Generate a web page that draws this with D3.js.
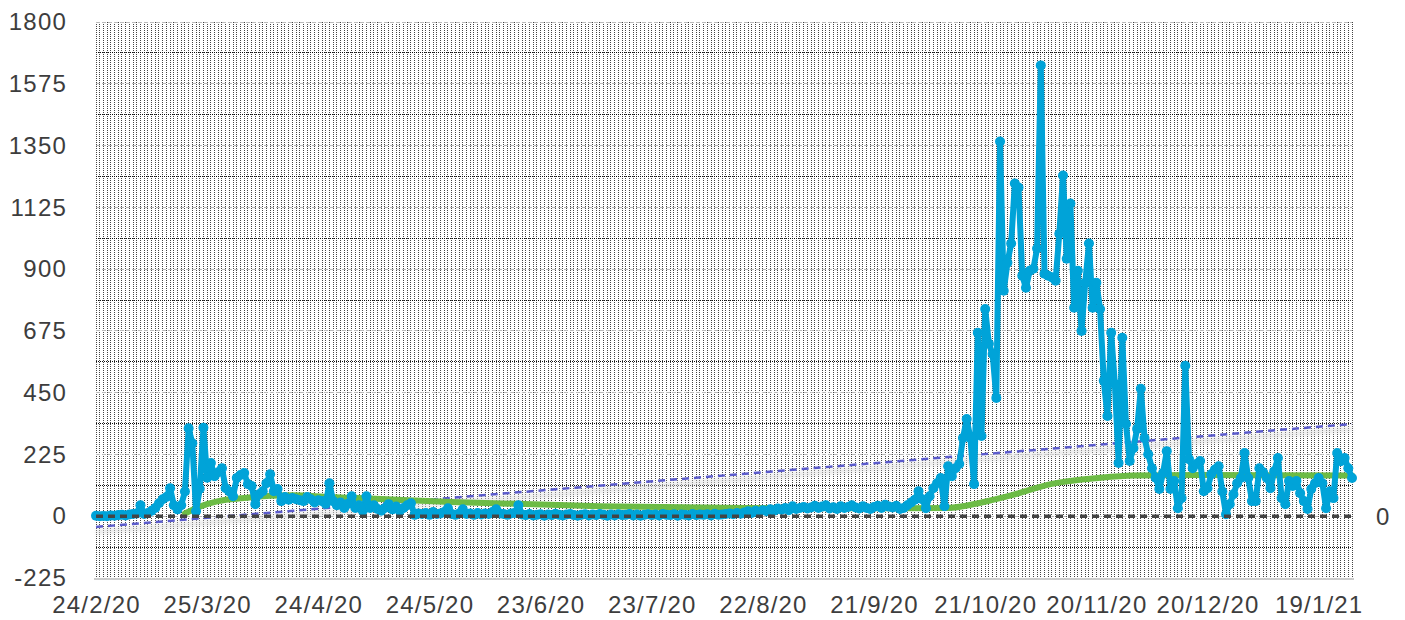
<!DOCTYPE html>
<html>
  <head>
    <meta charset="utf-8">
    <title>Daily cases</title>
    <style>
      body { margin: 0; background: #fff; }
      text { font-family: "Liberation Sans", Arial, sans-serif; fill: #3d3d3d; }
    </style>
  </head>
  <body>
    <div id="container"></div>
  </body>

  <script src="https://cdn.jsdelivr.net/npm/d3@7"></script>

  <script>
  // data, one value per day starting at startDate
  var startDate = "24/2/20";
  var cases = [
    2, 0, 1, 0, 3, 2, 4, 5, 3, 6, 8, 10,
    40,
    8, 12, 20, 30, 47, 62, 70, 102, 40, 25, 40, 90,
    320, 266, 18, 100, 322, 140, 194, 146, 160, 175, 102, 90,
    73, 139, 150, 157, 117, 110, 44, 80, 91, 120, 153, 91,
    99, 55, 70, 60, 66, 62, 58, 55, 70, 62, 50, 58, 55, 45,
    120, 55, 40, 50, 30, 45, 73, 30, 40, 20, 73, 30, 40, 26,
    20, 30, 44, 25, 35, 20, 30, 40, 47, 5, 10, 8, 12, 5,
    15, 8, 10, 15, 29, 8, 5, 10, 25,
    8, 10, 5, 12, 6, 10, 8, 15, 25, 10, 8, 5, 10, 12,
    40,
    6, 4, 8, 3, 5, 7, 2, 6, 4, 9, 5, 3, 6, 8, 4, 2, 5, 7, 3, 6,
    4, 8, 5, 2, 6, 3, 7, 4, 5, 8, 3, 6, 2, 5, 7, 4, 6, 3, 8, 5,
    4, 7, 2, 6, 5, 3, 8, 4, 6, 5, 7, 3, 9, 5, 6, 8, 10, 7, 12, 9,
    14, 18, 12, 20, 16, 22, 18, 25, 20, 28, 24, 30, 22, 36, 26, 30, 34, 28, 32, 38,
    30, 35, 40, 28, 33, 26, 36, 30, 34, 40, 32, 28, 36, 30, 26, 34, 38, 30, 42, 35, 32, 38,
    26, 30, 40, 50, 60, 91, 62, 29, 73, 102,
    120, 139, 36, 182, 146, 175, 190, 285, 354, 285,
    117, 668, 292, 755, 628, 591, 431, 1365, 821, 923,
    993, 1212, 1197, 876, 832, 894, 901, 975, 1642, 883,
    876, 870, 858, 1029, 1241, 938, 1139, 759, 894, 675,
    850, 993, 759, 850, 755, 493, 365, 668, 482, 194,
    650, 336, 201, 248, 318, 464, 285, 226, 175, 140,
    99, 157, 237, 99, 128, 29, 66, 548, 208, 175,
    190, 201, 91, 102, 153, 170, 182, 90, 7, 44,
    80, 120, 139, 230, 139, 55, 55, 175, 160, 139,
    102, 164, 212, 66, 44, 128, 110, 128, 84, 55,
    26, 99, 120, 139, 120, 29, 91, 66, 230, 200,
    212, 175, 139
  ];

  // smoothed curve (green), day offset -> value
  var smoothDays = [24, 28, 33, 40, 47, 53, 63, 71, 96, 136, 175, 217, 230, 239, 247, 258, 271, 280, 298, 339];
  var smoothValues = [10, 35, 55, 66, 75, 76, 70, 66, 52, 36, 30, 29, 30, 50, 76, 118, 140, 148, 150, 148];

  // linear trend (first day, last day)
  var trendValues = [-39, 336];

  var yTicks = [-225, 0, 225, 450, 675, 900, 1125, 1350, 1575, 1800];
  var xTickLabels = ["24/2/20", "25/3/20", "24/4/20", "24/5/20", "23/6/20", "23/7/20",
    "22/8/20", "21/9/20", "21/10/20", "20/11/20", "20/12/20", "19/1/21"];

  function main() {
    var width = 1405, height = 620;
    var left = 96, right = 1352, top = 22, bottom = 578;

    var parse = d3.timeParse("%d/%m/%y");
    var t0 = parse(startDate);
    var dates = cases.map(function(_, i) { return d3.timeDay.offset(t0, i); });
    var tEnd = dates[dates.length - 1];

    var svg = d3.select("#container").append("svg")
      .attr("width", width)
      .attr("height", height);

    var x = d3.scaleTime().domain([t0, tEnd]).range([left, right]);
    var y = d3.scaleLinear().domain([-225, 1800]).range([bottom, top]);

    // vertical grid, one dotted line per day
    var grid = svg.append("g").attr("shape-rendering", "crispEdges");
    grid.selectAll("line.v")
      .data(dates)
      .enter().append("line")
      .attr("class", "v")
      .attr("x1", function(d) { return x(d); })
      .attr("x2", function(d) { return x(d); })
      .attr("y1", top)
      .attr("y2", bottom)
      .attr("stroke", "#444")
      .attr("stroke-dasharray", "1,1");

    // horizontal minor (half steps) and major grid
    var halfSteps = d3.range(-225 + 112.5, 1800, 225);
    grid.selectAll("line.hm")
      .data(halfSteps)
      .enter().append("line")
      .attr("class", "hm")
      .attr("x1", left).attr("x2", right)
      .attr("y1", function(d) { return y(d); })
      .attr("y2", function(d) { return y(d); })
      .attr("stroke", "#111")
      .attr("stroke-dasharray", "1,1");

    grid.selectAll("line.h")
      .data(yTicks.filter(function(d) { return d > -225; }))
      .enter().append("line")
      .attr("class", "h")
      .attr("x1", left).attr("x2", right)
      .attr("y1", function(d) { return y(d); })
      .attr("y2", function(d) { return y(d); })
      .attr("stroke", "#bbb")
      .attr("stroke-dasharray", "4,2");

    // bottom axis line
    svg.append("line")
      .attr("x1", left - 2).attr("x2", right + 2)
      .attr("y1", bottom + 1).attr("y2", bottom + 1)
      .attr("stroke", "#ccc")
      .attr("stroke-width", 2);

    // trend line with soft shadow
    var defs = svg.append("defs");
    defs.append("filter").attr("id", "blur")
      .append("feGaussianBlur").attr("stdDeviation", 2);

    var trend = [[t0, trendValues[0]], [tEnd, trendValues[1]]];
    var trendLine = d3.line()
      .x(function(d) { return x(d[0]); })
      .y(function(d) { return y(d[1]); });

    svg.append("path")
      .datum(trend)
      .attr("d", trendLine)
      .attr("transform", "translate(0,5)")
      .attr("fill", "none")
      .attr("stroke", "#ddd")
      .attr("stroke-opacity", 0.8)
      .attr("stroke-width", 4)
      .attr("filter", "url(#blur)");

    svg.append("path")
      .datum(trend)
      .attr("d", trendLine)
      .attr("fill", "none")
      .attr("stroke", "#5b5bcc")
      .attr("stroke-width", 2.5)
      .attr("stroke-dasharray", "7,5");

    // green smoothed curve
    var smooth = smoothDays.map(function(d, i) {
      return [d3.timeDay.offset(t0, d), smoothValues[i]];
    });
    svg.append("path")
      .datum(smooth)
      .attr("d", d3.line()
        .curve(d3.curveMonotoneX)
        .x(function(d) { return x(d[0]); })
        .y(function(d) { return y(d[1]); }))
      .attr("fill", "none")
      .attr("stroke", "#6cbb45")
      .attr("stroke-width", 6)
      .attr("stroke-linecap", "round");

    // blue daily series
    var blue = "#00a3d8";
    svg.append("path")
      .datum(cases)
      .attr("d", d3.line()
        .x(function(d, i) { return x(dates[i]); })
        .y(function(d) { return y(d); }))
      .attr("fill", "none")
      .attr("stroke", blue)
      .attr("stroke-width", 6)
      .attr("stroke-linejoin", "round");

    svg.selectAll("circle.pt")
      .data(cases)
      .enter().append("circle")
      .attr("class", "pt")
      .attr("cx", function(d, i) { return x(dates[i]); })
      .attr("cy", function(d) { return y(d); })
      .attr("r", 5)
      .attr("fill", blue);

    // zero line
    svg.append("line")
      .attr("x1", left).attr("x2", right)
      .attr("y1", y(0)).attr("y2", y(0))
      .attr("stroke", "#444")
      .attr("stroke-width", 3.5)
      .attr("stroke-dasharray", "7,5");

    // axes
    var yAxis = d3.axisLeft(y).tickValues(yTicks)
      .tickFormat(function(d) { return String(d); })
      .tickSize(0).tickPadding(0);
    var gy = svg.append("g")
      .attr("transform", "translate(67,0)")
      .call(yAxis);
    gy.select(".domain").remove();
    gy.selectAll("text")
      .attr("font-size", 24)
      .attr("letter-spacing", 1.2)
      .attr("font-family", null)
      .attr("fill", "#3d3d3d");

    var xAxis = d3.axisBottom(x)
      .tickValues(xTickLabels.map(parse))
      .tickFormat(function(d, i) { return xTickLabels[i]; })
      .tickSize(0).tickPadding(0);
    var gx = svg.append("g")
      .attr("transform", "translate(0,596)")
      .call(xAxis);
    gx.select(".domain").remove();
    gx.selectAll("text")
      .attr("font-size", 24)
      .attr("letter-spacing", 1.2)
      .attr("font-family", null)
      .attr("fill", "#3d3d3d");

    // right axis shows only zero
    svg.append("text")
      .attr("x", 1376)
      .attr("y", y(0))
      .attr("dy", "0.35em")
      .attr("font-size", 24)
      .text("0");
  }

  window.onload = main;
  </script>
</html>
